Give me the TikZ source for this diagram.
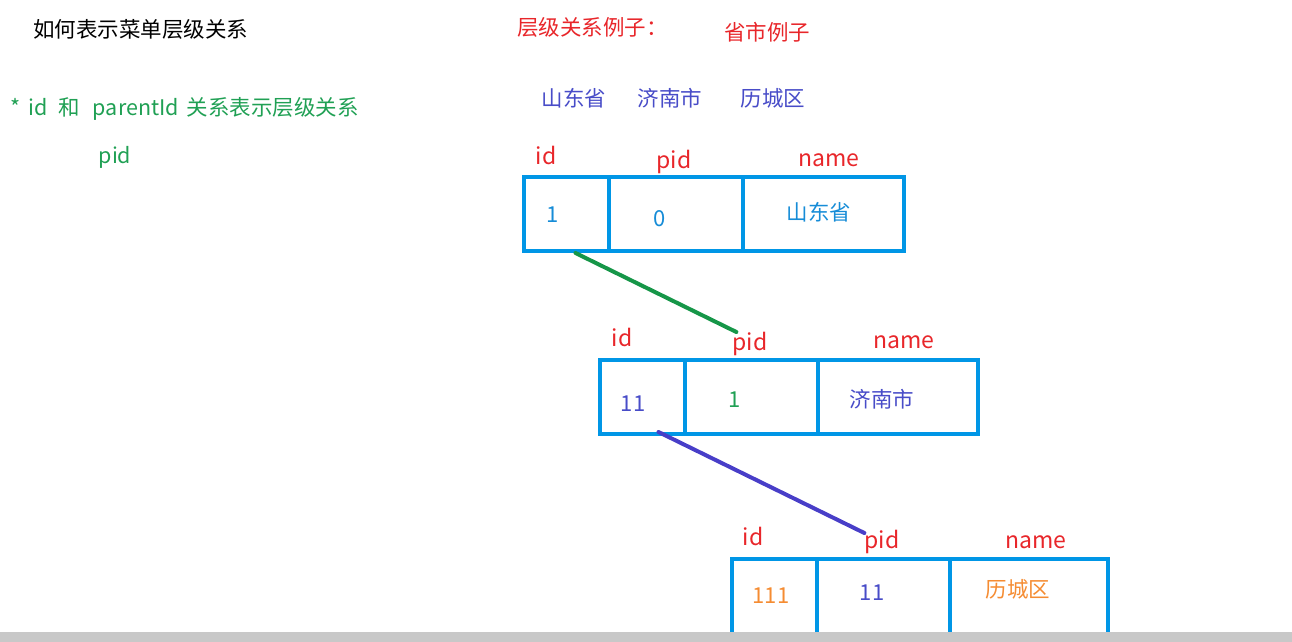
\documentclass[tikz,border=0pt]{standalone}
\usepackage{fontspec}
\setmainfont{Noto Sans CJK SC}
\usetikzlibrary{positioning}
\definecolor{lblred}{RGB}{232,38,42}
\definecolor{notegreen}{RGB}{32,160,84}
\definecolor{cityblue}{RGB}{72,76,200}
\definecolor{boxblue}{RGB}{0,150,230}
\definecolor{valcyan}{RGB}{22,140,215}
\definecolor{valorange}{RGB}{245,140,50}
\definecolor{linkgreen}{RGB}{22,150,72}
\definecolor{linkpurple}{RGB}{72,62,200}
\definecolor{bargray}{RGB}{200,200,200}
\tikzset{
 txt/.style={inner sep=0pt, font=\fontsize{21.5}{26}\selectfont},
 lbl/.style={inner sep=0pt, text=lblred, font=\fontsize{23}{27}\selectfont},
 val/.style={inner sep=0pt, font=\fontsize{22}{26}\selectfont},
 cell/.style={draw=boxblue, line width=4pt, inner sep=0pt, outer sep=0pt, minimum height=74pt},
 link/.style={line width=4pt, line cap=round}
}
\begin{document}
\begin{tikzpicture}[x=1pt, y=-1pt]
 \useasboundingbox (0,0) rectangle (1292,641);
 % notes on the left
 \node[txt, anchor=west] (title) at (33,29) {如何表示菜单层级关系};
 \node[txt, anchor=west, text=notegreen] (note) at (10,109)
  {*\hspace{8pt}id\hspace{11pt}和\hspace{13pt}parentId\hspace{8pt}关系表示层级关系};
 \node[txt, text=notegreen] (notepid) at (115,157) {pid};
 % example header
 \node[txt, anchor=west, text=lblred] (extitle) at (517,27) {层级关系例子：};
 \node[txt, text=lblred] (exsub) at (767,32) {省市例子};
 \node[txt, text=cityblue] (sd) at (574,98) {山东省};
 \node[txt, text=cityblue] (jn) at (670,98) {济南市};
 \node[txt, text=cityblue] (lc) at (773,98) {历城区};
 % table 1
 \node[cell, minimum width=85pt, anchor=north west] (t1id) at (524,177) {};
 \node[cell, minimum width=134pt, anchor=west] (t1pid) at (t1id.east) {};
 \node[cell, minimum width=161pt, anchor=west] (t1name) at (t1pid.east) {};
 \node[lbl] (h1id) at (546,155) {id};
 \node[lbl] (h1pid) at (674,162) {pid};
 \node[lbl] (h1name) at (829,160) {name};
 \node[val, text=valcyan] (v1id) at (553,215) {1};
 \node[val, text=valcyan] (v1pid) at (660,219) {0};
 \node[txt, text=valcyan] (v1name) at (819,212) {山东省};
 % table 2
 \node[cell, minimum width=85pt, anchor=north west] (t2id) at (600,360) {};
 \node[cell, minimum width=133pt, anchor=west] (t2pid) at (t2id.east) {};
 \node[cell, minimum width=160pt, anchor=west] (t2name) at (t2pid.east) {};
 \node[lbl] (h2id) at (622,337) {id};
 \node[lbl] (h2pid) at (750,344) {pid};
 \node[lbl] (h2name) at (904,342) {name};
 \node[val, text=cityblue] (v2id) at (633,404) {11};
 \node[val, text=notegreen] (v2pid) at (735,400) {1};
 \node[txt, text=cityblue] (v2name) at (882,399) {济南市};
 % table 3 (its bottom edge lies under the bar)
 \node[cell, minimum width=85pt, minimum height=77pt, anchor=north west] (t3id) at (732,559) {};
 \node[cell, minimum width=133pt, minimum height=77pt, anchor=north west] (t3pid) at (t3id.north east) {};
 \node[cell, minimum width=158pt, minimum height=77pt, anchor=north west] (t3name) at (t3pid.north east) {};
 \node[lbl] (h3id) at (753,536) {id};
 \node[lbl] (h3pid) at (882,542) {pid};
 \node[lbl] (h3name) at (1036,542) {name};
 \node[val, text=valorange] (v3id) at (771,596) {111};
 \node[val, text=cityblue] (v3pid) at (872,593) {11};
 \node[txt, text=valorange] (v3name) at (1018,589) {历城区};
 % parent links
 \draw[link, linkgreen] ([xshift=9pt, yshift=-2pt]t1id.south) -- ([xshift=4pt]h2pid.north west);
 \draw[link, linkpurple] ([xshift=16pt, yshift=2pt]t2id.south) -- ([yshift=-3pt]h3pid.north west);
 % bottom bar
 \fill[bargray] (-2,632) rectangle (1294,643);
\end{tikzpicture}
\end{document}
